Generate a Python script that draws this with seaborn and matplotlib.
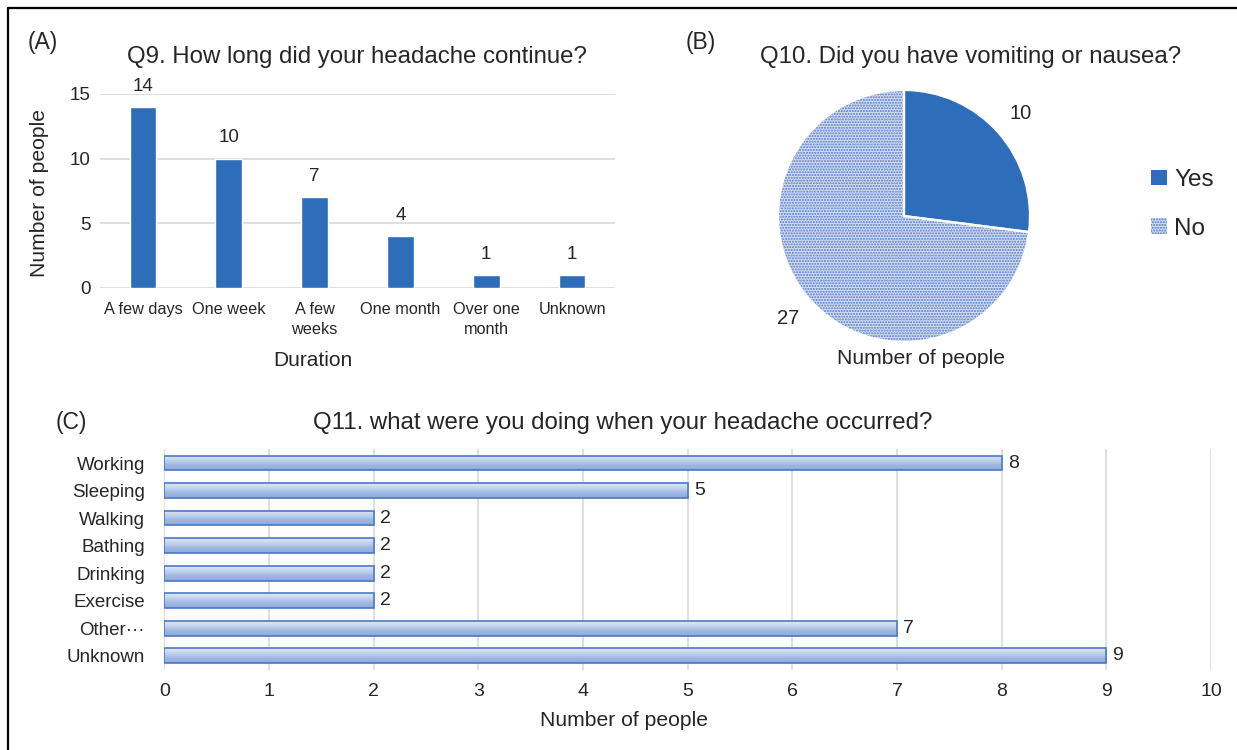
import numpy as np
import pandas as pd
import matplotlib
matplotlib.use("Agg")
import matplotlib.pyplot as plt
from matplotlib.lines import Line2D
from matplotlib.patches import Patch
from matplotlib.colors import LinearSegmentedColormap
import seaborn as sns

# Q9: duration of headache
durations = ["A few days", "One week", "A few\nweeks", "One month", "Over one\nmonth", "Unknown"]
duration_counts = [14, 10, 7, 4, 1, 1]

# Q10: vomiting or nausea
nausea_labels = ["Yes", "No"]
nausea_counts = [10, 27]

# Q11: activity at onset
activities = ["Working", "Sleeping", "Walking", "Bathing", "Drinking", "Exercise", "Other\u00b7\u00b7\u00b7", "Unknown"]
activity_counts = [8, 5, 2, 2, 2, 2, 7, 9]

sns.set_theme(style="white")
plt.rcParams["font.family"] = ["Liberation Sans", "DejaVu Sans"]

TEXT = "#262626"
BLUE = "#2e6db9"
GRID = "#d9d9d9"
NO_FACE = "#d3dcf2"
NO_DOTS = "#5278c6"
W, H = 1237, 750
TITLE_FS = 17.3
LABEL_FS = 15.2

fig = plt.figure(figsize=(W / 100, H / 100), dpi=100)


def fx(px):
    return px / W


def fy(py):
    return 1 - py / H


def ftext(x, y, s, size, **kw):
    fig.text(fx(x), fy(y), s, fontsize=size, color=TEXT, ha="center", va="center", **kw)


# ---------- (A) bar chart ----------
axA = fig.add_axes([fx(100), fy(288), (615 - 100) / W, (288 - 94) / H])
dfA = pd.DataFrame({"Duration": durations, "People": duration_counts})
sns.barplot(data=dfA, x="Duration", y="People", color=BLUE, saturation=1,
            width=0.31, ax=axA, zorder=3)
axA.set_ylim(0, 15)
axA.set_yticks([0, 5, 10, 15])
axA.yaxis.grid(True, color=GRID, lw=1.2)
axA.set_axisbelow(True)
for s in axA.spines.values():
    s.set_visible(False)
axA.tick_params(length=0, colors=TEXT)
axA.tick_params(axis="x", pad=10, labelsize=11.7)
axA.tick_params(axis="y", pad=7, labelsize=13.5)
for lab in axA.get_xticklabels():
    lab.set_linespacing(1.45)
axA.set_xlabel("")
axA.set_ylabel("")
for bar, v in zip(axA.patches, duration_counts):
    axA.annotate(str(v), (bar.get_x() + bar.get_width() / 2, v), xytext=(0, 15),
                 textcoords="offset points", ha="center", va="center",
                 fontsize=13.5, color=TEXT, annotation_clip=False)

ftext(43, 42, "(A)", 16.5)
ftext(357, 57, "Q9. How long did your headache continue?", TITLE_FS)
ftext(40, 193, "Number of people", LABEL_FS, rotation=90)
ftext(313, 360, "Duration", 15)

# ---------- (B) pie chart ----------
axB = fig.add_axes([fx(904 - 126), fy(216 + 126), 252 / W, 252 / H])
total = sum(nausea_counts)
wedges, texts, autotexts = axB.pie(
    nausea_counts, startangle=90, counterclock=False,
    colors=[BLUE, NO_FACE], radius=1,
    autopct=lambda p: f"{round(p * total / 100)}", pctdistance=1.23,
    textprops=dict(fontsize=14.5, color=TEXT),
)
for w in wedges:
    w.set_linewidth(0)
wedges[1].set_edgecolor(NO_DOTS)
wedges[1].set_hatch("......")
# white separators between slices
sep, _ = axB.pie(nausea_counts, startangle=90, counterclock=False, radius=1,
                 colors=["none", "none"],
                 wedgeprops=dict(edgecolor="white", linewidth=1.6))
axB.set_xlim(-1, 1)
axB.set_ylim(-1, 1)
axB.set_aspect("equal")

ftext(701, 42, "(B)", 16.5)
ftext(971, 57, "Q10. Did you have vomiting or nausea?", TITLE_FS)
ftext(921, 358, "Number of people", LABEL_FS)

handles = [Patch(facecolor=BLUE, edgecolor=BLUE, linewidth=0),
           Patch(facecolor=NO_FACE, edgecolor=NO_DOTS, hatch="......", linewidth=0)]
fig.legend(handles, nausea_labels, loc="upper left",
           bbox_to_anchor=(fx(1129), fy(147)), frameon=False,
           fontsize=17.5, handlelength=0.65, handleheight=0.6,
           handletextpad=0.3, labelspacing=1.1, labelcolor=TEXT)

# ---------- (C) horizontal bar chart ----------
axC = fig.add_axes([fx(164.3), fy(669.5), (1211 - 164.3) / W, (669.5 - 449.3) / H])
dfC = pd.DataFrame({"Activity": activities, "People": activity_counts})
sns.barplot(data=dfC, x="People", y="Activity", orient="h", color=BLUE,
            saturation=1, width=0.535, ax=axC, zorder=3)

grad_cmap = LinearSegmentedColormap.from_list(
    "bar_grad", ["#e2eaf8", "#c2d3ee", "#9fb8e1", "#8eabdb"])
grad = np.linspace(0, 1, 64).reshape(-1, 1)
for bar in axC.patches:
    x0, y0, w, h = bar.get_x(), bar.get_y(), bar.get_width(), bar.get_height()
    img = axC.imshow(grad, cmap=grad_cmap, extent=[x0, x0 + w, y0 + h, y0],
                     aspect="auto", origin="upper", zorder=2.5, interpolation="bilinear")
    img.set_clip_path(bar)
    bar.set_facecolor("none")
    bar.set_edgecolor("#4b77c7")
    bar.set_linewidth(1.2)

axC.set_xlim(0, 10)
axC.set_ylim(len(activities) - 0.5, -0.5)
axC.set_xticks(range(0, 11))
axC.xaxis.grid(True, color=GRID, lw=1.2)
axC.set_axisbelow(True)
for s in axC.spines.values():
    s.set_visible(False)
axC.tick_params(length=0, colors=TEXT)
axC.tick_params(axis="x", pad=10, labelsize=14)
axC.tick_params(axis="y", pad=14, labelsize=13.5)
axC.set_xlabel("")
axC.set_ylabel("")
for i, v in enumerate(activity_counts):
    axC.annotate(str(v), (v, i), xytext=(4.5, 0), textcoords="offset points",
                 ha="left", va="center", fontsize=14, color=TEXT)

ftext(71, 423, "(C)", 16.5)
ftext(623, 423, "Q11. what were you doing when your headache occurred?", TITLE_FS)
ftext(624, 721, "Number of people", LABEL_FS)

# frame lines along the left and top edges
fig.add_artist(Line2D([fx(8), fx(8)], [0, fy(8)], color="black", lw=1.6))
fig.add_artist(Line2D([fx(8), 1], [fy(8), fy(8)], color="black", lw=1.6))

fig.savefig("out.png", dpi=100, facecolor="white")
